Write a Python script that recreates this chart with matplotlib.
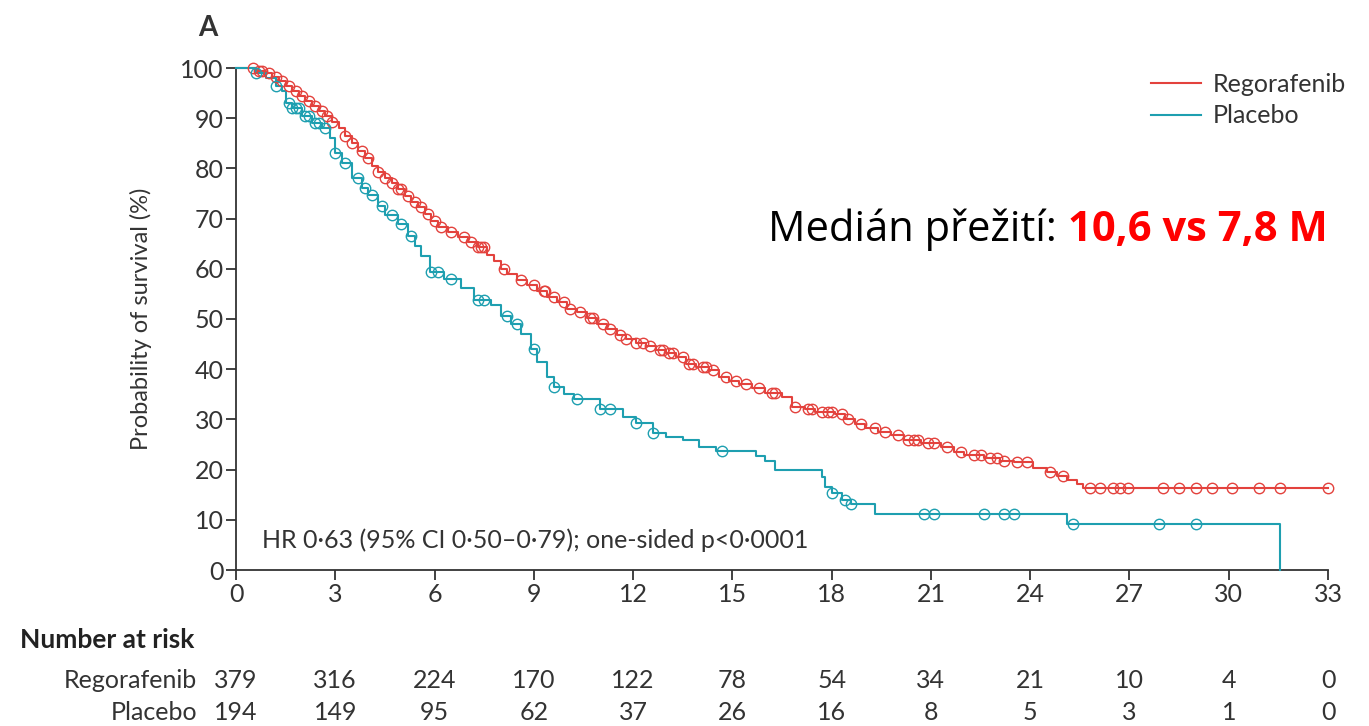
import numpy as np
import matplotlib
matplotlib.use("Agg")
import matplotlib.pyplot as plt
import matplotlib.transforms as mtransforms
from matplotlib.lines import Line2D

# ---------------- data ----------------
rego_t = [0, 0.6, 0.9, 1.1, 1.3, 1.5, 1.7, 1.9, 2.1, 2.3, 2.5, 2.7, 2.9, 3.1, 3.3, 3.5, 3.7, 3.9,
          4.1, 4.3, 4.5, 4.7, 4.9, 5.1, 5.3, 5.5, 5.7, 5.9, 6.1, 6.4, 6.7, 7.0, 7.3, 7.6, 7.8, 8.0,
          8.2, 8.5, 8.8, 9.1, 9.4, 9.7, 10.0, 10.3, 10.6, 10.9, 11.2, 11.5, 11.8, 12.1, 12.4, 12.7,
          13.0, 13.3, 13.6, 13.9, 14.3, 14.6, 14.9, 15.2, 15.6, 16.0, 16.5, 16.8, 17.2, 17.5, 18.1,
          18.4, 18.7, 19.0, 19.4, 19.8, 20.2, 20.7, 21.3, 21.7, 22.0, 22.6, 23.1, 23.5, 24.1, 24.5,
          24.8, 25.1, 25.4, 25.6, 33.0]
rego_s = [100, 99.5, 99, 98.2, 97.5, 96.5, 95.5, 94.5, 93.5, 92.5, 91.5, 90.5, 89.3, 88, 86.5, 85,
          83.5, 82, 80.5, 79.3, 78, 77, 75.8, 74.5, 73.3, 72.3, 71, 69.5, 68.3, 67.3, 66.3, 65.3,
          64.3, 62.8, 61.5, 60, 59, 57.8, 56.8, 55.5, 54.3, 53.3, 52, 51.3, 50.2, 49, 48, 46.8, 46,
          45.3, 44.6, 43.8, 43.2, 42.4, 41, 40.5, 39.8, 38.5, 37.6, 37, 36.2, 35.3, 34.5, 32.5, 32,
          31.5, 31, 30, 29, 28.3, 27.5, 26.8, 25.8, 25.3, 24.6, 23.6, 23, 22.4, 21.8, 21.5, 20.4,
          19.5, 18.8, 18, 17.2, 16.4, 16.4]
rego_cens = [0.5, 0.7, 0.8, 1.0, 1.2, 1.4, 1.6, 1.8, 2.0, 2.2, 2.4, 2.6, 2.75, 2.9, 3.3, 3.5, 3.8,
             4.0, 4.3, 4.5, 4.7, 4.9, 5.0, 5.2, 5.4, 5.6, 5.8, 6.0, 6.2, 6.5, 6.9, 7.1, 7.3, 7.4,
             7.5, 8.1, 8.6, 9.0, 9.3, 9.35, 9.6, 9.9, 10.1, 10.4, 10.7, 10.8, 11.1, 11.3, 11.6,
             11.8, 12.1, 12.3, 12.5, 12.8, 12.9, 13.1, 13.2, 13.5, 13.7, 13.8, 14.1, 14.2, 14.4,
             14.8, 15.1, 15.4, 15.8, 16.2, 16.3, 16.9, 17.3, 17.4, 17.7, 17.9, 18.0, 18.3, 18.5,
             18.9, 19.3, 19.6, 20.0, 20.3, 20.5, 20.6, 20.9, 21.1, 21.5, 21.9, 22.3, 22.5, 22.8,
             23.0, 23.2, 23.6, 23.9, 24.6, 25.0, 25.8, 26.1, 26.5, 26.7, 26.95, 28.0, 28.5, 29.0,
             29.5, 30.1, 30.9, 31.55, 33.0]

plac_t = [0, 0.6, 0.9, 1.2, 1.4, 1.5, 1.7, 2.0, 2.3, 2.6, 2.85, 3.0, 3.2, 3.5, 3.8, 4.0, 4.3, 4.5,
          4.9, 5.2, 5.4, 5.6, 5.85, 6.3, 6.8, 7.2, 7.7, 8.0, 8.3, 8.6, 8.9, 9.1, 9.4, 9.6, 9.9,
          10.2, 11.0, 11.7, 12.1, 12.6, 13.0, 13.5, 14.0, 14.5, 15.7, 16.0, 16.3, 17.7, 17.8, 18.0,
          18.3, 18.6, 19.3, 25.1, 31.55]
plac_s = [100, 99, 98, 96.5, 95.5, 93, 92, 90.5, 89, 88, 86, 83, 81, 78, 76, 74.7, 72.5, 70.7, 69,
          66.5, 64.5, 62.5, 59.4, 58, 56.2, 53.8, 52.8, 50.5, 49, 47, 44, 41.5, 38.5, 36.5, 35, 34,
          32, 30.5, 29.3, 27.3, 26.5, 25.8, 24.5, 23.8, 22.8, 21.8, 20, 18.5, 16.5, 15.3, 14, 13.2,
          11.2, 9.2, 0]
plac_cens = [0.6, 1.2, 1.6, 1.7, 1.8, 1.9, 2.1, 2.2, 2.4, 2.5, 2.7, 3.0, 3.3, 3.7, 3.9, 4.1, 4.4,
             4.7, 5.0, 5.3, 5.9, 6.1, 6.5, 7.3, 7.5, 8.2, 8.5, 9.0, 9.6, 10.3, 11.0, 11.3, 12.1,
             12.6, 14.7, 18.0, 18.4, 18.6, 20.8, 21.1, 22.6, 23.2, 23.5, 25.3, 27.9, 29.0]

x_ticks = [0, 3, 6, 9, 12, 15, 18, 21, 24, 27, 30, 33]
y_ticks = [0, 10, 20, 30, 40, 50, 60, 70, 80, 90, 100]
risk_rego = [379, 316, 224, 170, 122, 78, 54, 34, 21, 10, 4, 0]
risk_plac = [194, 149, 95, 62, 37, 26, 16, 8, 5, 3, 1, 0]
group_names = ["Regorafenib", "Placebo"]

# ---------------- style ----------------
plt.rcParams['font.family'] = ['Lato', 'DejaVu Sans']
txt_col = "#333333"
red = "#e3423d"
teal = "#1e9fb0"
FS = 18

fig = plt.figure(figsize=(13.69, 7.26), dpi=100)
ax = fig.add_axes([236/1369, 1-570/726, (1328-236)/1369, (570-68)/726])


def step_value(ts, ss, t):
    idx = np.searchsorted(ts, t, side='right') - 1
    return np.asarray(ss)[idx]


ax.step(rego_t, rego_s, where='post', color=red, lw=1.5, clip_on=False, zorder=3)
ax.step(plac_t, plac_s, where='post', color=teal, lw=1.5, clip_on=False, zorder=3)
ax.plot(rego_cens, step_value(rego_t, rego_s, rego_cens), 'o', mfc='none', mec=red,
        ms=7.5, mew=1.0, clip_on=False, zorder=4)
ax.plot(plac_cens, step_value(plac_t, plac_s, plac_cens), 'o', mfc='none', mec=teal,
        ms=7.5, mew=1.0, clip_on=False, zorder=4)

ax.set_xlim(0, 33)
ax.set_ylim(0, 100)
ax.set_xticks(x_ticks)
ax.set_yticks(y_ticks)
for s in ['top', 'right']:
    ax.spines[s].set_visible(False)
for s in ['left', 'bottom']:
    ax.spines[s].set_color(txt_col)
    ax.spines[s].set_linewidth(1.3)
ax.tick_params(axis='both', colors=txt_col, labelsize=FS, length=7, width=1.3, pad=2)
ax.set_ylabel("Probability of survival (%)", fontsize=17, color=txt_col, labelpad=20)

ax.text(0.8, 6, "HR 0·63 (95% CI 0·50–0·79); one-sided p<0·0001", fontsize=FS,
        color=txt_col, va='center', ha='left')

# legend
handles = [Line2D([], [], color=red, lw=1.5), Line2D([], [], color=teal, lw=1.5)]
fig.legend(handles, group_names, loc='upper left', bbox_to_anchor=(1128/1369, 1-50/726),
           frameon=False, fontsize=FS, handlelength=2.0, handletextpad=0.5,
           labelspacing=0.35, labelcolor=txt_col)

fig.text(208/1369, 1-28/726, "A", fontsize=20, fontweight='bold', color=txt_col,
         ha='center', va='center')

# median annotation
ann_font = ['Open Sans', 'DejaVu Sans']
t1 = fig.text(768/1369, 1-230/726, "Medián přežití: ", fontsize=30, color='black',
              ha='left', va='center', family=ann_font)
fig.canvas.draw()
bb = t1.get_window_extent()
fig.text(bb.x1/1369, 1-230/726, "10,6 vs 7,8 M", fontsize=30, color='#ff0000',
         fontweight='bold', ha='left', va='center', family=ann_font)

# number at risk table
trans = mtransforms.blended_transform_factory(ax.transData, fig.transFigure)
fig.text(20/1369, 1-640/726, "Number at risk", fontsize=19, fontweight='bold',
         color='#222222', ha='left', va='center')
row_y = [1-680/726, 1-712/726]
for name, vals, yy in zip(group_names, [risk_rego, risk_plac], row_y):
    fig.text(197/1369, yy, name, fontsize=FS, color=txt_col, ha='right', va='center')
    for t, v in zip(x_ticks, vals):
        ax.text(t, yy, str(v), fontsize=FS, color=txt_col, ha='center', va='center',
                transform=trans)

fig.savefig("out.png", dpi=100)
